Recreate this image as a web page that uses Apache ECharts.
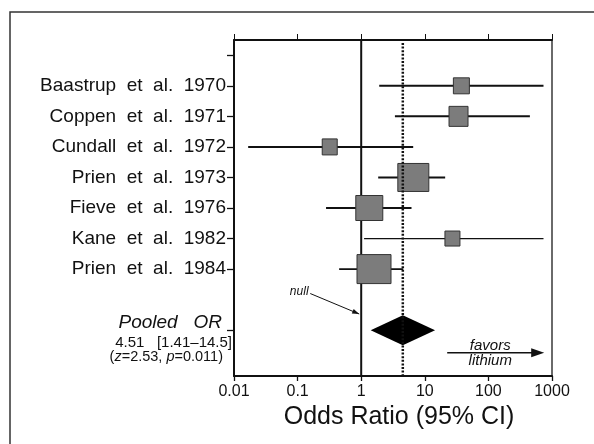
<!DOCTYPE html>
<html>
<head>
<meta charset="utf-8">
<script src="https://cdn.jsdelivr.net/npm/echarts@6/dist/echarts.min.js"></script>
<style>
html, body { margin: 0; padding: 0; background: #fff; }
#chart { width: 594px; height: 444px; }
</style>
</head>
<body>
<div id="chart"></div>
<script>
// forest plot data
const studies = [
  'Baastrup  et  al.  1970',
  'Coppen  et  al.  1971',
  'Cundall  et  al.  1972',
  'Prien  et  al.  1973',
  'Fieve  et  al.  1976',
  'Kane  et  al.  1982',
  'Prien  et  al.  1984'
]
const oddsRatio = [37.6, 33.9, 0.32, 6.6, 1.34, 27.2, 1.59]
const ciLow = [1.92, 3.39, 0.0167, 1.85, 0.28, 1.11, 0.45]
const ciHigh = [735, 449, 6.57, 20.9, 6.18, 735, 4.57]
// study weight boxes (px)
const boxW = [16, 19, 15, 31, 27, 15, 34]
const boxH = [16, 20, 16, 28, 25, 15, 29]
const whiskerW = [2, 2, 2, 2, 2, 1.3, 1.6]

const pooled = [4.51, 1.41, 14.5] // OR, low, high
const pooledRow = 8
const pooledText = ['Pooled   OR', '4.51   [1.41–14.5]']
const xTickLabels = ['0.01', '0.1', '1', '10', '100', '1000']

const FONT = '"Liberation Sans", Arial, Helvetica, sans-serif'
const INK = '#111'

function arrowHead(p1, p2, len, half) {
  const dx = p2[0] - p1[0], dy = p2[1] - p1[1]
  const d = Math.sqrt(dx * dx + dy * dy)
  const ux = dx / d, uy = dy / d
  const bx = p2[0] - ux * len, by = p2[1] - uy * len
  return [p2, [bx - uy * half, by + ux * half], [bx + uy * half, by - ux * half]]
}

const chart = echarts.init(document.getElementById('chart'), null, { renderer: 'canvas' })

const option = {
  animation: false,
  backgroundColor: '#fff',
  graphic: [
    {
      type: 'rect',
      shape: { x: 10, y: 12, width: 700, height: 600 },
      style: { fill: 'transparent', stroke: '#333', lineWidth: 1.5 },
      silent: true
    }
  ],
  grid: { left: 234, right: 42, top: 40, bottom: 68 },
  xAxis: [
    {
      type: 'log',
      logBase: 10,
      min: 0.01,
      max: 1000,
      position: 'bottom',
      axisLine: { onZero: false, lineStyle: { color: INK, width: 2 } },
      axisTick: { length: 5, lineStyle: { color: INK, width: 1.3 } },
      minorTick: { show: false },
      splitLine: { show: false },
      axisLabel: {
        color: INK,
        fontSize: 16,
        fontFamily: FONT,
        margin: 8,
        formatter: (v) => xTickLabels[Math.round(Math.log10(v)) + 2]
      },
      name: 'Odds Ratio (95% CI)',
      nameLocation: 'middle',
      nameGap: 23,
      nameTextStyle: { color: INK, fontSize: 25, fontFamily: FONT, padding: [0, 0, 0, 12] }
    },
    {
      type: 'log',
      logBase: 10,
      min: 0.01,
      max: 1000,
      position: 'top',
      axisLine: { onZero: false, lineStyle: { color: INK, width: 2 } },
      axisTick: { length: 6, lineStyle: { color: INK, width: 1 } },
      axisLabel: { show: false },
      splitLine: { show: false }
    }
  ],
  yAxis: [
    {
      type: 'value',
      min: -1.5,
      max: 9.5,
      inverse: true,
      axisLine: { show: true, onZero: false, lineStyle: { color: INK, width: 2 } },
      axisTick: {
        show: true,
        length: 7,
        customValues: [-1, 0, 1, 2, 3, 4, 5, 6, pooledRow],
        lineStyle: { color: INK, width: 1.3 }
      },
      axisLabel: {
        customValues: [0, 1, 2, 3, 4, 5, 6],
        formatter: (v) => studies[v] || '',
        color: INK,
        fontSize: 19,
        fontFamily: FONT,
        margin: 8
      },
      splitLine: { show: false }
    },
    {
      type: 'value',
      min: -1.5,
      max: 9.5,
      position: 'right',
      axisLine: { show: true, onZero: false, lineStyle: { color: '#6a6a6a', width: 2 } },
      axisTick: { show: false },
      axisLabel: { show: false },
      splitLine: { show: false }
    }
  ],
  series: [
    {
      // null line at OR = 1
      type: 'custom',
      z: 1,
      data: [[1, 0]],
      encode: { x: 0, y: 1 },
      renderItem: (params, api) => {
        const cs = params.coordSys
        const x = api.coord([api.value(0), 0])[0]
        return {
          type: 'line',
          shape: { x1: x, y1: cs.y, x2: x, y2: cs.y + cs.height },
          style: { stroke: INK, lineWidth: 2 }
        }
      }
    },
    {
      // studies: whisker + weighted box
      type: 'custom',
      z: 2,
      data: studies.map((s, i) => [oddsRatio[i], i, ciLow[i], ciHigh[i]]),
      encode: { x: [0, 2, 3], y: 1 },
      renderItem: (params, api) => {
        const i = params.dataIndex
        const row = api.value(1)
        const c = api.coord([api.value(0), row])
        const lo = api.coord([api.value(2), row])
        const hi = api.coord([api.value(3), row])
        return {
          type: 'group',
          children: [
            {
              type: 'line',
              shape: { x1: lo[0], y1: lo[1], x2: hi[0], y2: hi[1] },
              style: { stroke: INK, lineWidth: whiskerW[i] }
            },
            {
              type: 'rect',
              shape: { x: c[0] - boxW[i] / 2, y: c[1] - boxH[i] / 2, width: boxW[i], height: boxH[i] },
              style: { fill: '#7c7c7c', stroke: '#333', lineWidth: 1 }
            }
          ]
        }
      }
    },
    {
      // pooled diamond
      type: 'custom',
      z: 3,
      data: [[pooled[0], pooledRow, pooled[1], pooled[2]]],
      encode: { x: [0, 2, 3], y: 1 },
      renderItem: (params, api) => {
        const row = api.value(1)
        const c = api.coord([api.value(0), row])
        const lo = api.coord([api.value(2), row])
        const hi = api.coord([api.value(3), row])
        const h = 15
        return {
          type: 'polygon',
          shape: { points: [[lo[0], c[1]], [c[0], c[1] - h], [hi[0], c[1]], [c[0], c[1] + h]] },
          style: { fill: '#000' }
        }
      }
    },
    {
      // dotted line at pooled OR
      type: 'custom',
      z: 4,
      data: [[pooled[0], 0]],
      encode: { x: 0, y: 1 },
      renderItem: (params, api) => {
        const cs = params.coordSys
        const x = api.coord([api.value(0), 0])[0]
        return {
          type: 'line',
          shape: { x1: x, y1: cs.y + 3, x2: x, y2: cs.y + cs.height },
          style: { stroke: INK, lineWidth: 2.5, lineDash: [2, 1.6] }
        }
      }
    },
    {
      // pooled label + annotations
      type: 'custom',
      z: 5,
      data: [[0.01, pooledRow]],
      encode: { x: 0, y: 1 },
      renderItem: (params, api) => {
        const base = api.coord([api.value(0), api.value(1)])
        const n1 = api.coord([0.158, 6.8])
        const n2 = api.coord([0.93, 7.47])
        const f1 = api.coord([22.5, 8.74])
        const f2 = api.coord([754, 8.74])
        const nullTxt = api.coord([0.106, 6.74])
        const fav = api.coord([107, 8.52])
        const lith = api.coord([107, 9.01])
        return {
          type: 'group',
          children: [
            {
              type: 'text', x: base[0] - 12, y: base[1] - 7,
              style: { text: pooledText[0], fill: INK, font: 'italic 19px ' + FONT, align: 'right', verticalAlign: 'middle' }
            },
            {
              type: 'text', x: base[0] - 2, y: base[1] + 12.5,
              style: { text: pooledText[1], fill: INK, font: '15px ' + FONT, align: 'right', verticalAlign: 'middle' }
            },
            {
              type: 'text', x: base[0] - 11, y: base[1] + 26.5,
              style: {
                text: '{n|(}{i|z}{n|=2.53, }{i|p}{n|=0.011)}',
                rich: {
                  n: { fill: INK, font: '14.5px ' + FONT },
                  i: { fill: INK, font: 'italic 14.5px ' + FONT }
                },
                align: 'right',
                verticalAlign: 'middle'
              }
            },
            {
              type: 'text', x: nullTxt[0], y: nullTxt[1],
              style: { text: 'null', fill: INK, font: 'italic 12px ' + FONT, align: 'center', verticalAlign: 'middle' }
            },
            {
              type: 'line',
              shape: { x1: n1[0], y1: n1[1], x2: n2[0], y2: n2[1] },
              style: { stroke: INK, lineWidth: 1 }
            },
            {
              type: 'polygon',
              shape: { points: arrowHead(n1, n2, 7, 2.5) },
              style: { fill: INK }
            },
            {
              type: 'line',
              shape: { x1: f1[0], y1: f1[1], x2: f2[0] - 8, y2: f2[1] },
              style: { stroke: INK, lineWidth: 1.6 }
            },
            {
              type: 'polygon',
              shape: { points: arrowHead(f1, f2, 13, 4.5) },
              style: { fill: INK }
            },
            {
              type: 'text', x: fav[0], y: fav[1],
              style: { text: 'favors', fill: INK, font: 'italic 15px ' + FONT, align: 'center', verticalAlign: 'middle' }
            },
            {
              type: 'text', x: lith[0], y: lith[1],
              style: { text: 'lithium', fill: INK, font: 'italic 15px ' + FONT, align: 'center', verticalAlign: 'middle' }
            }
          ]
        }
      }
    }
  ]
}

chart.setOption(option)
</script>
</body>
</html>
